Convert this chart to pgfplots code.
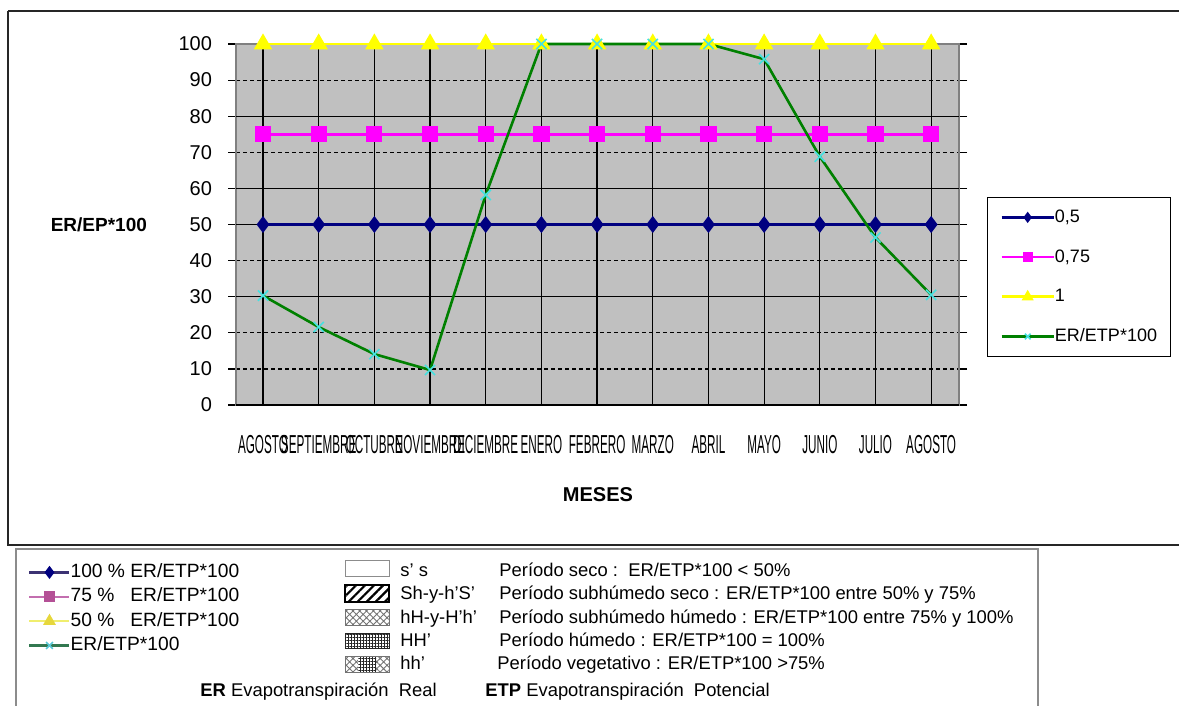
\documentclass[border=0pt]{standalone}
\usepackage{pgfplots}
\pgfplotsset{compat=1.18}
\usepackage{fontspec}
\setmainfont{Liberation Sans}
\usetikzlibrary{patterns.meta}
\usepackage{graphicx}
\definecolor{navyc}{RGB}{0,0,128}
\definecolor{magc}{RGB}{255,0,255}
\definecolor{yelc}{RGB}{255,255,0}
\definecolor{grnc}{RGB}{0,128,0}
\definecolor{cyac}{RGB}{70,225,225}
\definecolor{plotbg}{RGB}{192,192,192}
\definecolor{lnav}{RGB}{60,50,115}
\definecolor{lmag}{RGB}{195,110,175}
\definecolor{lmagm}{RGB}{180,80,150}
\definecolor{lyel}{RGB}{240,238,110}
\definecolor{lyelm}{RGB}{230,215,60}
\definecolor{lgrn}{RGB}{50,120,80}
\definecolor{lcya}{RGB}{90,200,215}
\newcommand\cnd[1]{\scalebox{0.45}[1]{#1}}
\begin{document}
\begin{tikzpicture}
% frames
\begin{scope}[x=0.5pt,y=-0.5pt]
 \draw[line width=1.1pt, black!85] (8,11) -- (1195,11);
 \draw[line width=1.1pt, black!85] (8,11) -- (8,545) -- (1195,545);
 \draw[line width=0.6pt, black!45] (16,549) rectangle (1038,730);
 \node[font=\bfseries\fontsize{9.5}{12}\selectfont, anchor=east] at (154,225) {ER/EP*100};
 \node[font=\bfseries\fontsize{10}{12}\selectfont] at (598,495) {MESES};
\end{scope}

\begin{axis}[
  at={(118pt,-202.5pt)}, anchor=south west,
  scale only axis, width=361.5pt, height=180.5pt,
  xmin=-0.485, xmax=12.5, ymin=0, ymax=100,
  clip=false,
  axis background/.style={fill=plotbg},
  axis line style={draw=black!50, line width=0.8pt},
  xtick={0,...,12},
  xticklabels={\cnd{AGOSTO},\cnd{SEPTIEMBRE},\cnd{OCTUBRE},\cnd{NOVIEMBRE},\cnd{DICIEMBRE},\cnd{ENERO},\cnd{FEBRERO},\cnd{MARZO},\cnd{ABRIL},\cnd{MAYO},\cnd{JUNIO},\cnd{JULIO},\cnd{AGOSTO}},
  xticklabel style={font=\fontsize{13}{13}\selectfont, anchor=center, yshift=-16pt},
  x tick style={draw=none},
  ytick={0,10,...,100},
  ymajorgrids,
  major grid style={black, line width=0.6pt, dash pattern=on 2pt off 1.5pt},
  y tick style={black, line width=0.6pt},
  tick align=outside, major tick length=4pt,
  yticklabel style={font=\fontsize{10}{12}\selectfont, xshift=-4.5pt},
  /pgf/number format/assume math mode=true,
  legend style={at={(1.0387,0.5762)}, anchor=north west, draw=black, fill=white,
    inner xsep=6.5pt, inner ysep=6pt, font=\fontsize{9}{10}\selectfont,
    row sep=11.85pt, nodes={inner sep=0pt, text height=6.5pt, text depth=1.5pt, anchor=west},
    /tikz/every even column/.append style={column sep=2.5pt}},
  legend cell align=left,
  legend image code/.code={\draw[mark repeat=2,mark phase=2,every mark/.append style={scale=0.55}] plot coordinates {(0pt,0pt) (13pt,0pt) (26pt,0pt)};},
]
% solid horizontal grid lines
\addplot[black, line width=0.6pt, forget plot] coordinates {(-0.485,30) (12.5,30)};
\addplot[black, line width=0.6pt, forget plot] coordinates {(-0.485,50) (12.5,50)};
\addplot[black, line width=0.6pt, forget plot] coordinates {(-0.485,60) (12.5,60)};
\addplot[black, line width=0.6pt, forget plot] coordinates {(-0.485,80) (12.5,80)};
\addplot[black, line width=0.9pt, forget plot] coordinates {(-0.485,0) (12.5,0)};
% vertical grid lines
\addplot[ycomb, black, line width=0.6pt, no marks, forget plot] coordinates {(0,100)(1,100)(2,100)(3,100)(4,100)(5,100)(6,100)(7,100)(8,100)(9,100)(10,100)(11,100)(12,100)};

\addplot[navyc, line width=1.3pt, mark=diamond*, mark size=3.2pt, mark options={fill=navyc}] coordinates {(0,50)(1,50)(2,50)(3,50)(4,50)(5,50)(6,50)(7,50)(8,50)(9,50)(10,50)(11,50)(12,50)};
\addlegendentry{0,5}
\addplot[magc, line width=1.3pt, mark=square*, mark size=3.4pt, mark options={fill=magc}] coordinates {(0,75)(1,75)(2,75)(3,75)(4,75)(5,75)(6,75)(7,75)(8,75)(9,75)(10,75)(11,75)(12,75)};
\addlegendentry{0,75}
\addplot[yelc, line width=1.3pt, mark=triangle*, mark size=4pt, mark options={fill=yelc}] coordinates {(0,100)(1,100)(2,100)(3,100)(4,100)(5,100)(6,100)(7,100)(8,100)(9,100)(10,100)(11,100)(12,100)};
\addlegendentry{1}
\addplot[grnc, line width=1.3pt, mark=x, mark size=3.6pt, mark options={draw=cyac, line width=0.8pt}] coordinates {(0,30.3)(1,21.6)(2,14.1)(3,9.7)(4,58.2)(5,100)(6,100)(7,100)(8,100)(9,95.8)(10,68.8)(11,46.4)(12,30.5)};
\addlegendentry{ER/ETP*100}
\end{axis}

% lower legend (line samples)
\begin{axis}[
  at={(0pt,0pt)}, anchor=north west,
  scale only axis, width=589.5pt, height=353pt,
  hide axis, xmin=0, xmax=1, ymin=0, ymax=1,
  legend style={at={(0.02375,0.2025)}, anchor=north west, draw=none, fill=none,
    inner sep=0pt, font=\fontsize{9.6}{10}\selectfont, row sep=3.17pt,
    nodes={inner sep=0pt, text height=7pt, text depth=2pt, anchor=west},
    /tikz/every even column/.append style={column sep=1pt}},
  legend cell align=left,
  legend image code/.code={\draw[mark repeat=2,mark phase=2] plot coordinates {(0pt,0pt) (10pt,0pt) (20pt,0pt)};},
]
\addlegendimage{lnav, line width=1.1pt, mark=diamond*, mark size=2.4pt, mark options={draw=navyc, fill=navyc}}
\addlegendentry{100 \% ER/ETP*100}
\addlegendimage{lmag, line width=1.1pt, mark=square*, mark size=2.2pt, mark options={draw=lmagm, fill=lmagm}}
\addlegendentry{75 \%\hphantom{0} ER/ETP*100}
\addlegendimage{lyel, line width=1.1pt, mark=triangle*, mark size=2.6pt, mark options={draw=lyelm, fill=lyelm}}
\addlegendentry{50 \%\hphantom{0} ER/ETP*100}
\addlegendimage{lgrn, line width=1.1pt, mark=x, mark size=2.4pt, mark options={draw=lcya, line width=0.8pt}}
\addlegendentry{ER/ETP*100}
\end{axis}

% lower legend (pattern swatches and texts)
\begin{scope}[x=0.5pt,y=-0.5pt, every node/.style={font=\fontsize{9.2}{10}\selectfont, inner sep=0pt, anchor=base west}]
 \draw[black!45, line width=0.5pt, fill=white] (345,560) rectangle (389,576);
 \fill[pattern={Lines[angle=45,distance=3.2pt,line width=1.1pt]}, pattern color=black] (345,585) rectangle (389,602);
 \draw[black, line width=0.6pt] (345,585) rectangle (389,602);
 \fill[pattern={Hatch[angle=45,distance=2.4pt,line width=0.45pt]}, pattern color=black!55] (345,609) rectangle (389,625);
 \draw[black!55, line width=0.5pt] (345,609) rectangle (389,625);
 \fill[pattern={Hatch[angle=0,distance=1.5pt,line width=0.45pt]}, pattern color=black!85] (345,633) rectangle (389,648);
 \draw[black!85, line width=0.5pt] (345,633) rectangle (389,648);
 \fill[pattern={Hatch[angle=45,distance=2.4pt,line width=0.45pt]}, pattern color=black!55] (345,656) rectangle (389,672);
 \fill[white] (358,656) rectangle (376,672);
 \fill[pattern={Hatch[angle=0,distance=1.5pt,line width=0.45pt]}, pattern color=black!85] (358,656) rectangle (376,672);
 \draw[black!55, line width=0.5pt] (345,656) rectangle (389,672);

 \node at (400,576) {s' s};
 \node at (400,599) {Sh-y-h'S'};
 \node at (400,623) {hH-y-H'h'};
 \node at (400,646) {HH'};
 \node at (400,669) {hh'};

 \node at (499,576) {Período seco :\ \ ER/ETP*100 < 50\%};
 \node at (499,599) {Período subhúmedo seco : ER/ETP*100 entre 50\% y 75\%};
 \node at (499,623) {Período subhúmedo húmedo : ER/ETP*100 entre 75\% y 100\%};
 \node at (499,646) {Período húmedo : ER/ETP*100 = 100\%};
 \node at (497,669) {Período vegetativo : ER/ETP*100 >75\%};

 \node at (200,696) {\textbf{ER} Evapotranspiración\ \ Real};
 \node at (485,696) {\textbf{ETP} Evapotranspiración\ \ Potencial};
\end{scope}

\pgfresetboundingbox
\path (0pt,0pt) rectangle (589.5pt,-353pt);
\end{tikzpicture}
\end{document}
